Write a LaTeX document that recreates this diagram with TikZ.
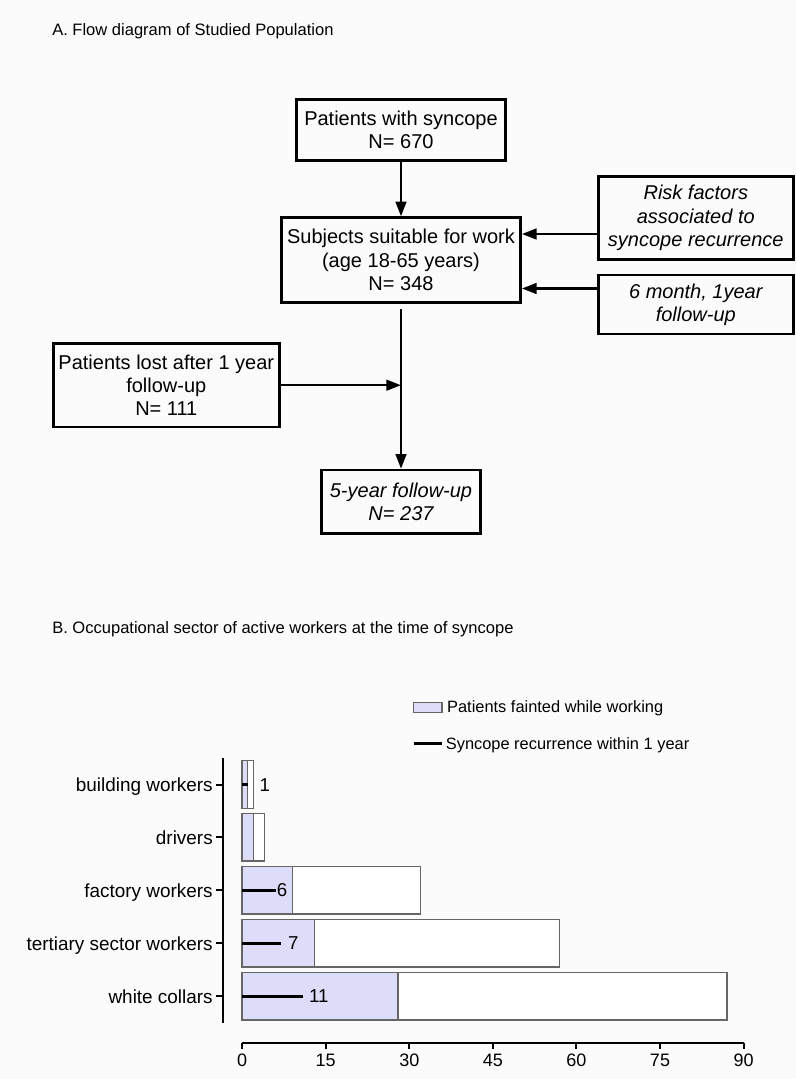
\documentclass[tikz,border=0pt]{standalone}
\usepackage{fontspec}
\setmainfont{Liberation Sans}
\usetikzlibrary{arrows.meta,calc}
\definecolor{ink}{HTML}{000000}
\definecolor{edge}{HTML}{666666}
\definecolor{faint}{HTML}{DDDDFA}
\definecolor{paper}{HTML}{FBFBFB}
\tikzset{
  box/.style={draw=ink, line width=2pt, align=center, inner sep=2pt,
              font=\fontsize{15}{17.5}\selectfont},
  boxit/.style={box, font=\fontsize{15}{17.5}\selectfont\itshape},
  arr/.style={-{Triangle[length=11pt,width=8pt]}, line width=1.8pt, draw=ink},
  ttl/.style={anchor=west, inner sep=0pt, text height=8.9pt, text depth=0pt,
              font=\fontsize{12.4}{14}\selectfont},
  % ---- chart ----
  cat/.style={anchor=east, inner sep=0pt, text height=10.2pt, text depth=0pt,
              font=\fontsize{14.2}{16}\selectfont},
  num/.style={anchor=west, inner sep=0pt, text height=10pt, text depth=0pt,
              font=\fontsize{14}{16}\selectfont},
  ticklbl/.style={inner sep=0pt, text height=9.7pt, text depth=0pt,
              font=\fontsize{13.5}{15}\selectfont},
  lgd/.style={anchor=west, inner sep=0pt, text height=8.8pt, text depth=0pt,
              font=\fontsize{12.3}{14}\selectfont},
  barbox/.style={draw=edge, line width=1pt},
  rec/.style={draw=ink, line width=2.2pt},
  axis/.style={draw=ink, line width=1.5pt},
}

\begin{document}
\begin{tikzpicture}[x=0.75pt,y=-0.75pt]
\fill[paper] (0,0) rectangle (796,1079);
\useasboundingbox (0,0) rectangle (796,1079);
% titles
\node[ttl] (ta) at (52,30) {A. Flow diagram of Studied Population};
\node[ttl] (tb) at (52,628) {B. Occupational sector of active workers at the time of syncope};
% flow boxes
\node[box, minimum width=156.5pt, minimum height=45.75pt] (pat) at (401,129.8)
   {Patients with syncope\\N= 670};
\node[box, minimum width=179.4pt, minimum height=63.5pt] (suit) at (401,260)
   {Subjects suitable for work\\(age 18-65 years)\\N= 348};
\node[boxit, minimum width=146.25pt, minimum height=62pt] (risk) at (695.8,218)
   {Risk factors\\associated to\\syncope recurrence};
\node[boxit, minimum width=146.25pt, minimum height=44.25pt] (fup) at (695.8,304.5)
   {6 month, 1year\\follow-up};
\node[box, minimum width=169.5pt, minimum height=62.8pt] (lost) at (166.3,385.2)
   {Patients lost after 1 year\\follow-up\\N= 111};
\node[boxit, minimum width=119.25pt, minimum height=47.5pt] (res) at (401,501.7)
   {5-year follow-up\\N= 237};
% arrows
\draw[arr] (pat) -- (suit);
\coordinate (r1) at ([yshift=-12pt]risk.west);
\coordinate (r2) at ([yshift=12pt]fup.west);
\draw[arr] (r1) -- (r1 -| suit.east);
\draw[arr] (r2) -- (r2 -| suit.east);
\draw[arr, shorten <=4pt] (suit) -- (res);
\coordinate (jn) at (lost.east -| suit.south);
\draw[arr] (lost.east) -- (jn);
% legend
\draw[barbox, fill=faint] (413.6,702.3) rectangle (442.1,712.3);
\node[lgd] (lg1) at (446.9,707) {Patients fainted while working};
\draw[rec] (413.6,743.3) -- (442.1,743.3);
\node[lgd] (lg2) at (445.6,744) {Syncope recurrence within 1 year};
% y axis and sectors
\draw[axis] (223,758.3) -- (223,1022.7);
\foreach \yc/\lab [count=\i] in {784.5/building workers, 837.3/drivers,
    890.3/factory workers, 943.2/tertiary sector workers, 996.2/white collars}{
  \draw[axis] (216,\yc) -- (223,\yc);
  \node[cat] (sec\i) at (213,\yc) {\lab};
}
% bars, x in data units
\begin{scope}[shift={(242.1,0)}, x=4.179pt]
  \foreach \yc/\tot/\fa in {784.5/2/1, 837.3/4/2, 890.3/32/9, 943.2/57/13, 996.2/87/28}{
    \draw[barbox, fill=white] (0,\yc-23.8) rectangle (\tot,\yc+23.8);
    \draw[barbox, fill=faint] (0,\yc-23.8) rectangle (\fa,\yc+23.8);
  }
  \foreach \yc/\r/\lx in {784.5/1/3.1, 890.3/6/6.2, 943.2/7/8.2, 996.2/11/12.0}{
    \draw[rec] (0,\yc) -- (\r,\yc);
    \node[num] (v\r) at (\lx,\yc) {\r};
  }
  % x axis
  \draw[axis] (0,1042.5) -- (90,1042.5);
  \foreach \v in {0,15,...,90}{
    \draw[axis] (\v,1042.5) -- (\v,1049);
    \node[ticklbl] (t\v) at (\v,1059.7) {\v};
  }
\end{scope}
\end{tikzpicture}
\end{document}
